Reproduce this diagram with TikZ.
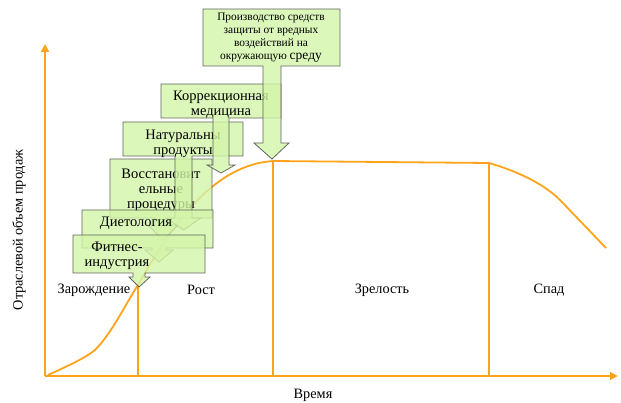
\documentclass[tikz,border=0pt]{standalone}
\usepackage{fontspec}
\setmainfont{Liberation Serif}
\usetikzlibrary{arrows.meta}
\definecolor{naranja}{HTML}{FFA31A}
\definecolor{verdeclaro}{HTML}{D3F5A9}
\definecolor{borde}{HTML}{4A4A4A}

\tikzset{
  eje/.style={line width=2pt,naranja,-{Triangle[length=8pt,width=8pt]}},
  fase/.style={line width=1.8pt,naranja},
  llamada/.style={fill=verdeclaro,draw=borde,line width=0.8pt,fill opacity=0.8,draw opacity=0.85},
  etiq/.style={font=\fontsize{14.5}{15}\selectfont,align=center,inner sep=0pt},
  fasetxt/.style={font=\fontsize{14.3}{16}\selectfont,inner sep=0pt}
}

\begin{document}
\begin{tikzpicture}[x=1pt,y={(0pt,-1pt)}]
    \useasboundingbox (0,0) rectangle (621,403);
    % ejes
    \coordinate (O) at (45,376);
    \coordinate (ytop) at (45,44);
    \coordinate (xfin) at (618,376);
    \draw[eje] (O) -- (ytop);
    \draw[eje] (O) -- (xfin);
    \node[fasetxt,rotate=90] (ventas) at (19,230) {Отраслевой объем продаж};
    \node[fasetxt] (tiempo) at (313,395) {Время};
    % curva del ciclo de vida
    \draw[fase,line join=round] (48,375) .. controls (70,365) and (85,358) .. (95,350)
      .. controls (112,333) and (125,305) .. (138,285)
      .. controls (175,220) and (215,165) .. (273,161) -- (489,163)
      .. controls (520,172) and (545,185) .. (560,200) -- (606,248);
    % fronteras entre fases
    \coordinate (f1) at (138,285);
    \coordinate (f2) at (273,161);
    \coordinate (f3) at (489,163);
    \draw[fase] (f1) -- (f1 |- O);
    \draw[fase] (f2) -- (f2 |- O);
    \draw[fase] (f3) -- (f3 |- O);
    \node[fasetxt] (zarozh) at (94,290) {Зарождение};
    \node[fasetxt] (rost) at (201,290) {Рост};
    \node[fasetxt] (zrel) at (382,290) {Зрелость};
    \node[fasetxt] (spad) at (549,290) {Спад};
    % llamadas
    \draw[llamada] (110,159) -- (212,159) -- (212,218) -- (171,218) -- (171,225) -- (178,225) -- (163,240)
      -- (148,225) -- (155,225) -- (155,218) -- (110,218) -- cycle;
    \node[etiq] (vosst) at (161,190) {Восстановит\\ельные\\процедуры};
    \draw[llamada] (123,122) -- (243,122) -- (243,156) -- (192,156) -- (192,218) -- (201,218) -- (183.5,230)
      -- (166,218) -- (175,218) -- (175,156) -- (123,156) -- cycle;
    \node[etiq] (natur) at (183,143.5) {Натуральны\\продукты};
    \draw[llamada] (161,84) -- (281,84) -- (281,118) -- (229,118) -- (229,165) -- (235,165) -- (221,173)
      -- (207,165) -- (213,165) -- (213,118) -- (161,118) -- cycle;
    \node[etiq] (korr) at (221,105) {Коррекционная\\медицина};
    \draw[llamada] (203,9) -- (340,9) -- (340,66) -- (281,66) -- (281,143) -- (289,143) -- (272,159)
      -- (254,143) -- (263,143) -- (263,66) -- (203,66) -- cycle;
    \node[etiq,font=\fontsize{11.4}{13}\selectfont] (proizv) at (271,38)
      {Производство средств\\защиты от вредных\\воздействий на\\окружающую {\fontsize{13.5}{13}\selectfont среду}};
    \draw[llamada] (82,210) -- (213,210) -- (213,248) -- (166,248) -- (166,250) -- (173,250) -- (159,262)
      -- (145,250) -- (152,250) -- (152,248) -- (82,248) -- cycle;
    \node[etiq] (diet) at (136,223) {Диетология};
    \draw[llamada] (73,235) -- (205,235) -- (205,273) -- (145,273) -- (145,277) -- (150,277) -- (139,287)
      -- (129,277) -- (133,277) -- (133,273) -- (73,273) -- cycle;
    \node[etiq] (fitnes) at (117,255.5) {Фитнес-\\индустрия};
\end{tikzpicture}
\end{document}
